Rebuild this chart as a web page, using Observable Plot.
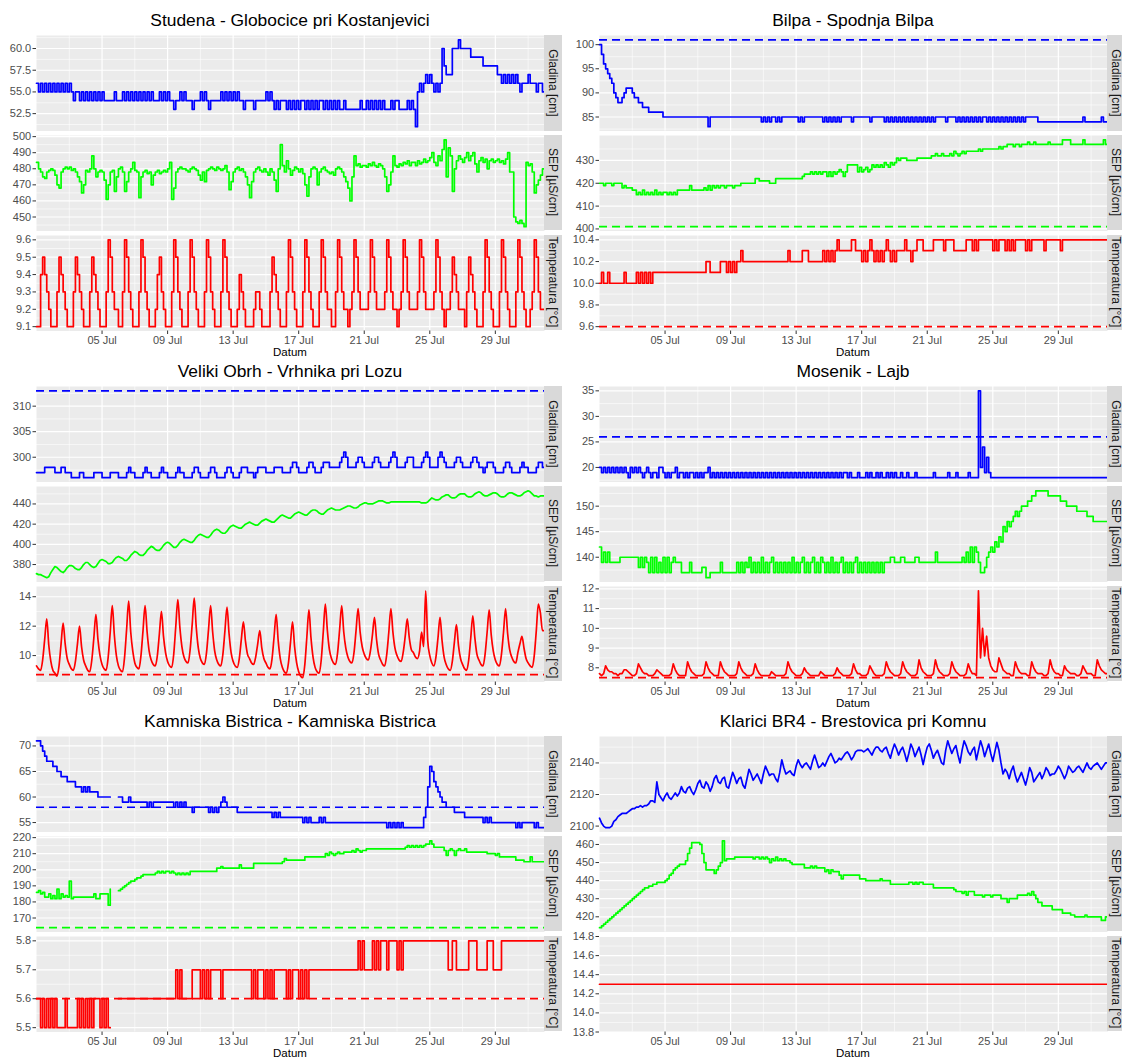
<!DOCTYPE html>
<html><head><meta charset="utf-8">
<script src="https://cdn.jsdelivr.net/npm/d3@7"></script>
<script src="https://cdn.jsdelivr.net/npm/@observablehq/plot@0.6"></script>
<style>
html,body{margin:0;padding:0;background:#fff;}
#root{position:relative;width:1122px;height:1059px;overflow:hidden;font-family:"Liberation Sans",Arial,sans-serif;}
.title{position:absolute;text-align:center;font-size:17.4px;line-height:22px;color:#000;white-space:nowrap;}
.xlab{position:absolute;text-align:center;font-size:11.5px;line-height:14px;color:#000;}
.strip{position:absolute;background:#D9D9D9;overflow:hidden;}
.strip span{position:absolute;left:50%;top:50%;transform:translate(-50%,-50%) rotate(90deg);white-space:nowrap;font-size:12px;color:#1A1A1A;}
.facet{position:absolute;}
.facet svg{overflow:visible;}
</style></head><body><div id="root"></div>
<script>
// ---------- DATA (3-hour samples from 01 Jul 00:00, 8 per day) ----------
const panelTitles = ["Studena - Globocice pri Kostanjevici","Bilpa - Spodnja Bilpa","Veliki Obrh - Vrhnika pri Lozu","Mosenik - Lajb","Kamniska Bistrica - Kamniska Bistrica","Klarici BR4 - Brestovica pri Komnu"];
const facetLabels = ["Gladina [cm]","SEP [µS/cm]","Temperatura [°C]"];
const facetColors = ["#0000FF","#00FF00","#FF0000"];
const xTickLabels = ["05 Jul","09 Jul","13 Jul","17 Jul","21 Jul","25 Jul","29 Jul"];

const studenaGladina = [
56,55,56,55,56,55,56,55, 56,55,56,55,56,55,56,55, 56,55,54,55,55,54,55,54, 55,54,55,54,55,54,55,54,
55,54,54,54,54,54,55,54, 54,54,55,54,55,54,55,54, 55,54,55,54,55,54,55,54, 55,54,54,54,55,54,55,54,
55,54,54,53,54,54,55,54, 55,54,54,54,53,54,54,54, 55,54,55,54,53,54,54,54, 54,54,55,54,55,54,55,54,
55,54,55,54,54,53,54,54, 54,54,53,54,54,54,54,54, 55,54,55,54,53,54,53,54, 54,54,53,54,53,54,53,54,
53,54,54,53,54,53,54,53, 54,53,54,54,53,54,53,54, 53,54,53,54,53,53,54,53, 53,53,53,53,53,53,54,53,
53,54,53,54,53,54,53,54, 53,54,53,53,53,54,53,54, 54,53,53,53,53,54,53,54, 53,51,55,56,55,56,57,56,
57,56,55,56,55,56,60,58, 57,57,57,60,60,60,61,60, 60,60,60,60,59,59,59,59, 59,59,58,58,58,58,58,58,
58,57,57,56,57,56,57,56, 57,56,57,56,55,56,56,56, 57,56,56,56,55,56,56,55];
const studenaSEP = [
484,480,478,475,474,478,479,480, 479,476,470,468,478,480,481,480, 481,479,480,478,475,472,465,470, 479,478,480,488,480,475,478,479,
478,473,461,470,478,479,466,475, 480,481,478,466,472,478,480,484, 479,478,462,475,478,479,477,478, 470,476,478,479,477,478,479,478,
480,484,461,468,478,480,481,480, 480,479,478,480,481,480,479,476, 473,478,472,479,480,481,480,479, 481,480,479,480,482,478,467,472,
478,480,481,479,480,478,475,470, 462,472,478,480,481,479,478,480, 478,476,480,478,473,466,480,495, 482,478,485,480,476,479,481,480,
478,480,477,470,463,475,480,481, 480,470,478,480,481,479,478,477, 478,476,480,481,480,478,475,472, 468,460,475,488,482,483,481,482,
482,481,483,482,484,482,481,483, 482,480,475,466,470,478,488,482, 481,483,482,484,483,485,482,484, 484,482,485,483,484,486,484,485,
487,490,484,482,488,485,492,498, 475,493,488,466,480,485,488,486, 484,487,490,485,488,490,483,478, 485,487,484,486,480,485,486,484,
485,486,484,485,483,486,490,478, 478,450,447,446,448,446,444,484, 482,483,478,465,470,473,476,480];
const studenaTemp = [
9.1,9.1,9.4,9.5,9.4,9.3,9.2,9.1, 9.1,9.1,9.3,9.5,9.4,9.3,9.2,9.1, 9.1,9.1,9.3,9.5,9.4,9.3,9.2,9.1, 9.1,9.1,9.3,9.5,9.4,9.3,9.2,9.1,
9.1,9.1,9.3,9.6,9.5,9.3,9.2,9.2, 9.1,9.1,9.3,9.6,9.5,9.3,9.2,9.1, 9.1,9.1,9.3,9.6,9.5,9.3,9.2,9.1, 9.1,9.1,9.2,9.4,9.5,9.3,9.2,9.1,
9.1,9.1,9.3,9.6,9.5,9.3,9.2,9.1, 9.1,9.1,9.3,9.6,9.5,9.3,9.2,9.1, 9.1,9.1,9.3,9.6,9.5,9.3,9.2,9.1, 9.1,9.1,9.3,9.6,9.5,9.3,9.2,9.1,
9.1,9.1,9.2,9.4,9.3,9.2,9.1,9.1, 9.1,9.1,9.2,9.3,9.3,9.2,9.1,9.1, 9.1,9.1,9.3,9.5,9.4,9.3,9.2,9.1, 9.1,9.1,9.3,9.6,9.5,9.3,9.2,9.1,
9.1,9.1,9.3,9.6,9.5,9.3,9.2,9.1, 9.1,9.1,9.3,9.6,9.5,9.3,9.2,9.2, 9.1,9.1,9.3,9.6,9.5,9.3,9.2,9.2, 9.1,9.2,9.3,9.6,9.5,9.3,9.2,9.2,
9.2,9.2,9.3,9.6,9.5,9.3,9.2,9.2, 9.2,9.2,9.3,9.6,9.5,9.3,9.2,9.2, 9.1,9.2,9.3,9.6,9.5,9.3,9.2,9.2, 9.2,9.2,9.3,9.6,9.5,9.3,9.2,9.2,
9.2,9.2,9.3,9.6,9.5,9.3,9.2,9.1, 9.2,9.2,9.3,9.5,9.4,9.3,9.2,9.2, 9.2,9.1,9.3,9.5,9.4,9.3,9.2,9.1, 9.1,9.1,9.3,9.6,9.5,9.3,9.2,9.1,
9.1,9.1,9.3,9.6,9.5,9.3,9.2,9.1, 9.1,9.1,9.3,9.6,9.5,9.3,9.2,9.1, 9.1,9.2,9.3,9.6,9.5,9.3,9.2,9.2];

const bilpaGladina = [
100,98,96,95,94,93,92,90, 89,88,88,89,90,91,91,91, 90,89,89,88,88,87,87,87, 86,86,86,86,86,86,86,85,
85,85,85,85,85,85,85,85, 85,85,85,85,85,85,85,85, 85,85,85,85,85,83,85,85, 85,85,85,85,85,85,85,85,
85,85,85,85,85,85,85,85, 85,85,85,85,85,85,85,84, 85,84,85,84,85,85,84,85, 84,85,85,85,85,85,85,85,
85,84,85,84,85,85,85,85, 85,85,85,85,85,84,85,84, 85,84,85,84,85,84,85,85, 85,85,85,84,85,85,85,85,
85,85,85,85,84,85,85,85, 85,85,85,84,85,84,85,84, 85,84,85,84,85,84,85,84, 85,84,85,84,85,84,85,84,
85,84,85,84,85,85,85,85, 85,84,85,85,85,85,84,85, 84,85,84,85,84,85,84,85, 84,85,84,85,85,84,85,84,
85,84,85,84,85,84,85,84, 85,84,85,84,85,84,85,84, 85,85,85,85,85,85,84,84, 84,84,84,84,84,84,84,84,
84,84,84,84,84,84,84,84, 84,84,84,84,85,84,84,84, 84,84,84,84,84,85,84,84];
const bilpaSEP = [
420,420,419,420,420,420,419,420, 420,420,420,418,419,418,418,418, 417,417,415,416,415,417,415,416, 415,416,415,417,415,416,415,416,
416,415,416,415,416,415,417,417, 417,417,417,417,419,417,417,417, 417,417,417,418,417,419,417,419, 418,419,418,419,419,418,419,419,
419,418,419,419,419,420,420,420, 420,420,420,420,422,422,421,421, 421,421,421,420,420,420,422,422, 422,422,422,422,422,422,422,422,
422,422,422,423,424,424,424,425, 424,425,424,425,424,425,425,423, 425,423,425,424,425,426,425,423, 425,428,428,428,428,428,425,427,
425,426,427,425,426,428,427,428, 427,428,427,429,428,427,429,428, 429,431,430,431,431,431,430,430, 430,430,430,431,431,431,431,431,
431,431,432,432,433,432,432,433, 432,432,432,433,432,434,433,432, 433,434,433,434,434,434,434,434, 434,435,434,435,435,435,435,435,
435,435,435,436,435,436,436,437, 437,437,436,437,437,436,437,437, 437,438,437,437,438,437,437,437, 437,437,437,438,437,437,437,437,
437,437,439,439,439,439,437,437, 437,437,437,437,439,437,437,437, 437,437,437,437,437,437,439,437];
const bilpaTemp = [
10.0,10.1,10.0,10.0,10.1,10.0,10.0,10.0, 10.0,10.0,10.0,10.0,10.1,10.0,10.0,10.0, 10.0,10.0,10.1,10.0,10.1,10.0,10.1,10.0, 10.1,10.0,10.1,10.1,10.1,10.1,10.1,10.1,
10.1,10.1,10.1,10.1,10.1,10.1,10.1,10.1, 10.1,10.1,10.1,10.1,10.1,10.1,10.1,10.1, 10.1,10.1,10.1,10.1,10.2,10.2,10.1,10.1, 10.1,10.1,10.1,10.2,10.2,10.2,10.1,10.2,
10.1,10.2,10.1,10.2,10.2,10.3,10.2,10.2, 10.2,10.2,10.2,10.2,10.2,10.2,10.2,10.2, 10.2,10.2,10.2,10.2,10.2,10.2,10.2,10.2, 10.2,10.2,10.2,10.2,10.3,10.2,10.2,10.2,
10.2,10.2,10.2,10.3,10.3,10.3,10.2,10.2, 10.2,10.2,10.2,10.2,10.2,10.3,10.2,10.3, 10.2,10.3,10.2,10.3,10.4,10.3,10.3,10.3, 10.3,10.3,10.3,10.4,10.4,10.3,10.3,10.3,
10.2,10.3,10.2,10.3,10.4,10.3,10.2,10.3, 10.2,10.3,10.2,10.3,10.4,10.3,10.2,10.3, 10.2,10.3,10.3,10.3,10.3,10.4,10.3,10.3, 10.2,10.3,10.3,10.4,10.4,10.4,10.3,10.3,
10.3,10.3,10.3,10.4,10.4,10.4,10.4,10.4, 10.3,10.4,10.4,10.4,10.4,10.3,10.3,10.3, 10.3,10.3,10.3,10.4,10.4,10.4,10.3,10.4, 10.3,10.4,10.4,10.4,10.4,10.4,10.4,10.4,
10.3,10.4,10.3,10.4,10.4,10.4,10.3,10.4, 10.3,10.4,10.3,10.4,10.4,10.4,10.4,10.4, 10.3,10.4,10.3,10.4,10.4,10.4,10.4,10.4, 10.4,10.3,10.4,10.4,10.4,10.4,10.4,10.4,
10.4,10.3,10.4,10.4,10.4,10.4,10.4,10.4, 10.4,10.4,10.4,10.4,10.4,10.4,10.4,10.4, 10.4,10.4,10.4,10.4,10.4,10.4,10.4,10.4];

const velikiGladina = [
297,297,297,297,298,298,298,298, 298,297,297,297,298,298,297,297, 297,296,296,296,296,297,297,296, 296,296,296,296,297,297,297,297,
296,296,296,296,297,297,297,297, 296,296,296,296,297,298,297,297, 296,296,296,296,297,298,297,297, 296,296,296,296,297,298,297,297,
296,296,296,296,297,298,297,297, 296,296,296,296,297,298,298,297, 296,296,296,296,297,298,298,297, 296,296,296,296,297,298,298,297,
296,296,296,297,298,298,298,297, 297,297,296,297,298,298,298,298, 297,297,297,297,298,298,298,298, 297,297,297,297,298,299,299,298,
297,297,297,297,298,299,299,298, 297,297,297,298,299,299,299,298, 298,298,298,298,299,300,301,300, 298,298,298,298,299,300,300,299,
298,298,298,298,299,300,300,299, 298,298,298,298,299,300,301,300, 298,298,298,298,299,300,300,300, 298,298,298,298,299,300,301,300,
298,298,298,298,300,301,300,299, 298,298,298,298,299,300,300,299, 298,298,298,298,299,300,300,299, 298,298,297,298,299,299,299,298,
297,297,297,297,298,299,299,298, 297,297,297,297,298,299,298,298, 297,297,297,297,298,299,299,298];
const velikiSEP = [
371,370,370,369,368,367,368,372, 375,378,377,375,373,372,374,377, 379,379,378,376,375,375,377,380, 382,382,380,378,377,378,381,384,
385,384,383,381,381,382,385,387, 388,387,386,384,384,386,389,391, 393,392,390,389,389,391,394,396, 398,397,395,394,394,396,399,401,
402,401,399,397,397,399,402,404, 405,404,403,402,402,404,407,409, 410,409,408,407,407,409,412,414, 415,414,412,411,411,413,416,418,
419,418,417,416,416,418,420,421, 422,421,420,419,419,421,423,424, 425,424,423,422,422,424,426,428, 429,428,427,426,426,428,430,431,
432,431,430,429,429,431,433,434, 434,433,431,430,430,432,434,435, 436,435,434,434,434,435,436,437, 438,438,437,436,436,437,439,440,
441,441,440,440,440,441,442,443, 443,443,442,441,441,442,442,442, 442,442,442,442,442,442,442,442, 442,442,442,442,441,441,441,442,
444,446,445,444,444,445,447,448, 449,449,447,446,446,447,449,450, 450,450,448,447,447,448,450,451, 452,451,449,448,448,449,450,451,
451,450,448,447,447,448,450,451, 451,450,449,448,448,449,451,452, 453,452,450,448,448,447,448,448];
const velikiTemp = [
9.3,9.1,9.0,9.7,11.1,12.5,10.7,9.6, 9.0,8.8,8.6,9.3,10.8,12.2,10.8,9.8, 9.4,9.1,9.0,9.6,10.8,12.0,10.6,9.7, 9.3,9.0,8.9,9.7,11.2,12.8,11.1,10.0,
9.4,9.1,9.0,9.9,11.6,13.4,11.4,10.0, 9.3,9.0,8.9,9.9,11.8,13.7,11.6,10.3, 9.5,9.2,9.1,10.0,11.7,13.4,11.6,10.3, 9.7,9.4,9.3,10.0,11.5,13.0,11.3,10.2,
9.6,9.3,9.2,10.1,12.0,13.8,11.9,10.6, 9.9,9.6,9.5,10.4,12.1,13.9,11.9,10.5, 9.8,9.5,9.4,10.2,11.8,13.4,11.6,10.3, 9.7,9.4,9.3,10.1,11.7,13.3,11.5,10.2,
9.6,9.3,9.2,9.8,11.1,12.3,11.0,10.1, 9.8,9.5,9.4,9.9,10.8,11.7,10.5,9.8, 9.5,9.2,9.1,9.8,11.3,12.8,11.0,9.8, 9.2,8.9,8.8,9.5,10.9,12.3,10.6,9.5,
8.9,8.6,8.5,9.4,11.3,13.1,11.2,9.9, 9.2,8.9,8.8,9.7,11.6,13.5,11.7,10.4, 9.8,9.5,9.4,10.2,11.8,13.4,11.6,10.5, 9.9,9.6,9.5,10.2,11.7,13.2,11.6,10.6,
10.1,9.8,9.7,10.3,11.4,12.6,11.1,10.1, 9.7,9.4,9.3,10.1,11.6,13.2,11.6,10.5, 10.0,9.7,9.6,10.2,11.3,12.5,11.2,10.4, 10.2,9.9,9.8,10.3,11.6,10.6,14.4,11.0,
10.0,9.5,9.3,9.9,11.2,12.6,11.0,9.9, 9.4,9.1,9.0,9.6,10.9,12.1,10.7,9.8, 9.4,9.1,9.0,9.7,11.2,12.7,11.2,10.1, 9.7,9.4,9.3,10.1,11.6,13.1,11.4,10.3,
9.7,9.4,9.3,10.1,11.6,13.2,11.5,10.4, 9.9,9.6,9.5,10.2,10.8,11.3,10.5,9.8, 9.5,9.3,9.2,10.0,11.7,13.5,12.9,11.7];

const mosenikGladina = [
20,19,20,19,20,19,20,19, 20,19,20,19,20,19,18,20, 19,20,19,20,19,18,19,20, 19,18,19,19,18,20,20,19,
18,19,18,19,19,20,18,19, 19,18,19,18,19,19,18,19, 18,19,18,19,19,20,18,19, 18,19,18,19,18,19,18,19,
18,19,18,19,18,19,18,19, 18,19,18,19,18,19,18,19, 18,19,18,19,18,19,18,19, 18,19,18,19,18,19,18,19,
18,19,18,19,18,19,18,19, 18,19,18,19,18,19,18,19, 18,19,18,19,18,19,18,19, 19,18,19,18,18,18,19,18,
18,18,19,18,19,18,18,19, 18,19,18,18,19,18,19,18, 19,18,18,19,18,18,19,18, 18,18,19,18,18,18,18,18,
18,18,18,19,18,18,18,18, 18,18,19,18,18,18,19,18, 18,18,18,18,19,18,18,18, 18,35,20,24,19,22,19,18,
18,18,18,18,18,18,18,18, 18,18,18,18,18,18,18,18, 18,18,18,18,18,18,18,18, 18,18,18,18,18,18,18,18,
18,18,18,18,18,18,18,18, 18,18,18,18,18,18,18,18, 18,18,18,18,18,18,18,18];
const mosenikSEP = [
142,139,141,139,141,139,139,139, 139,139,140,140,140,140,140,140, 140,140,140,138,140,138,140,139, 137,140,137,140,137,139,137,140,
137,140,137,139,140,139,139,139, 137,137,137,137,139,137,137,137, 137,137,138,138,136,136,137,137, 137,137,137,139,137,137,137,137,
137,137,137,139,137,139,137,139, 138,140,137,139,137,139,137,140, 137,139,137,139,140,137,139,137, 139,137,139,137,139,137,140,137,
139,137,139,140,137,139,137,139, 140,137,139,137,140,139,137,139, 137,140,137,139,137,139,140,137, 139,137,139,137,139,140,137,139,
137,139,137,139,137,139,137,139, 137,139,137,139,139,139,140,140, 139,139,139,140,140,139,139,139, 139,139,140,140,139,139,139,139,
139,139,139,139,141,139,139,139, 139,139,139,139,139,139,139,139, 139,140,139,141,139,142,139,142, 141,139,137,137,138,140,141,142,
141,143,142,144,143,146,145,147, 146,147,148,149,148,149,150,150, 150,151,151,152,152,153,153,153, 153,153,153,152,152,152,152,152,
152,151,151,151,150,150,150,150, 150,149,149,149,149,149,148,148, 148,147,147,147,147,147,147,147];
const mosenikTemp = [
7.7,7.6,7.7,8.1,7.9,7.8,7.8,7.7, 7.7,7.6,7.7,7.7,7.9,7.9,7.8,7.7, 7.6,7.6,7.7,8.2,8.0,7.8,7.7,7.7, 7.6,7.6,7.6,7.7,7.9,7.8,7.7,7.6,
7.6,7.6,7.6,7.7,8.2,7.9,7.7,7.6, 7.6,7.6,7.6,8.3,8.0,7.8,7.7,7.6, 7.6,7.6,7.6,7.7,8.3,8.0,7.8,7.7, 7.6,7.6,7.6,8.3,8.0,7.8,7.7,7.6,
7.6,7.6,7.6,7.7,8.3,8.0,7.8,7.7, 7.6,7.6,7.6,7.7,8.2,7.9,7.7,7.6, 7.6,7.6,7.6,7.6,7.8,7.7,7.6,7.6, 7.6,7.6,7.6,7.7,8.3,8.0,7.8,7.7,
7.6,7.6,7.6,7.7,8.0,7.8,7.7,7.6, 7.6,7.6,7.6,7.6,7.8,7.7,7.6,7.6, 7.6,7.6,7.6,7.7,8.0,7.8,7.7,7.6, 7.6,7.6,7.6,7.7,8.2,7.9,7.7,7.7,
7.6,7.6,7.6,7.7,8.1,7.9,7.7,7.6, 7.6,7.6,7.6,7.7,8.3,8.0,7.8,7.7, 7.6,7.6,7.6,7.7,8.3,8.0,7.8,7.7, 7.6,7.6,7.6,7.7,8.4,8.0,7.8,7.7,
7.6,7.6,7.6,7.7,8.4,8.0,7.8,7.7, 7.6,7.6,7.6,7.7,8.3,8.0,7.8,7.7, 7.6,7.6,7.6,7.7,8.2,7.9,7.7,7.7, 7.6,11.9,8.5,10.0,8.6,9.6,8.5,8.1,
7.9,7.8,7.8,8.5,8.2,7.9,7.8,7.7, 7.7,7.6,7.6,8.3,8.0,7.8,7.7,7.7, 7.7,7.6,7.6,8.3,8.0,7.8,7.7,7.7, 7.7,7.6,7.6,7.7,8.4,8.0,7.8,7.7,
7.7,7.6,7.6,8.1,7.9,7.8,7.7,7.7, 7.7,7.6,7.6,7.7,8.1,7.9,7.7,7.7, 7.7,7.6,7.6,8.4,8.1,7.9,7.8,7.7];

const kamniskaGladina = [
71,71,70,69,68,67,67,67, 66,66,65,65,64,64,64,63, 63,63,63,62,62,62,61,62, 61,62,61,61,61,61,60,60,
60,60,60,60,60,null,null,null, 60,60,59,59,59,60,59,59, 59,59,59,59,59,59,58,59, 58,59,59,59,59,59,59,59,
59,59,59,58,59,58,59,58, 59,58,58,58,57,58,58,58, 58,58,58,58,57,58,57,58, 57,58,59,60,59,58,58,58,
58,58,57,57,57,57,57,57, 57,57,57,57,57,57,57,57, 57,57,57,56,57,56,57,56, 56,56,56,56,56,56,56,56,
56,56,55,56,55,56,55,55, 55,55,56,55,56,55,55,55, 55,55,55,55,55,55,55,55, 55,55,55,55,55,55,55,55,
55,55,55,55,55,55,55,55, 55,55,55,54,55,54,55,54, 55,54,55,54,54,54,54,54, 54,54,54,54,54,56,58,62,
66,65,63,62,61,60,59,59, 58,58,58,58,57,57,57,57, 57,56,56,56,56,56,56,56, 56,56,55,56,55,56,55,55,
55,55,55,55,55,55,55,55, 55,55,54,55,54,55,55,55, 55,55,55,54,55,54,54,54];
const kamniskaSEP = [
186,187,185,186,183,183,185,182, 184,182,188,182,185,183,184,183, 193,182,183,183,183,183,183,183, 183,183,183,183,185,182,182,185,
185,185,185,178,188,null,null,null, 187,188,189,190,191,192,193,193, 194,195,195,196,197,197,197,197, 197,197,198,199,198,199,198,199,
199,198,199,198,197,198,197,198, 197,198,197,199,199,199,199,199, 199,199,199,199,199,199,199,199, 201,201,202,201,201,201,201,201,
201,201,201,203,201,201,201,201, 201,201,204,204,204,204,204,204, 204,204,204,204,204,204,204,204, 205,207,206,206,206,206,206,206,
206,206,206,208,208,208,208,208, 208,208,208,208,208,210,209,211, 210,209,210,211,210,210,211,211, 211,211,212,211,213,212,211,212,
212,213,213,213,213,213,213,213, 213,213,213,213,213,213,213,213, 213,213,213,213,214,215,214,215, 214,215,214,215,214,215,216,216,
218,216,214,214,214,214,214,212, 209,212,213,212,209,212,213,212, 212,213,211,211,211,211,211,211, 211,211,211,211,210,210,210,210,
209,210,208,208,208,208,208,208, 208,208,206,206,206,206,205,205, 205,208,205,205,205,205,205,205];
const kamniskaTemp = [
5.6,5.6,5.5,5.6,5.5,5.6,5.5,5.6, 5.5,5.6,5.5,5.5,5.5,5.5,5.6,5.5, 5.5,5.5,5.5,5.5,5.6,5.5,5.6,5.5, 5.6,5.5,5.6,5.5,5.6,5.6,5.6,5.5,
5.6,5.5,5.6,5.5,5.5,null,null,null, 5.6,5.6,5.6,5.6,5.6,5.6,5.6,5.6, 5.6,5.6,5.6,5.6,5.6,5.6,5.6,5.6, 5.6,5.6,5.6,5.6,5.6,5.6,5.6,5.6,
5.6,5.6,5.6,5.6,5.7,5.6,5.7,5.6, 5.6,5.6,5.6,5.6,5.7,5.7,5.7,5.7, 5.6,5.7,5.6,5.7,5.6,5.7,5.7,5.7, 5.7,5.7,5.6,5.7,5.7,5.7,5.7,5.7,
5.7,5.7,5.7,5.7,5.7,5.7,5.7,5.7, 5.7,5.6,5.7,5.6,5.7,5.7,5.7,5.6, 5.7,5.6,5.7,5.6,5.7,5.7,5.7,5.7, 5.7,5.7,5.6,5.7,5.6,5.7,5.7,5.7,
5.6,5.7,5.6,5.7,5.6,5.7,5.7,5.7, 5.7,5.7,5.7,5.7,5.7,5.7,5.7,5.7, 5.7,5.7,5.7,5.7,5.7,5.7,5.7,5.7, 5.7,5.7,5.7,5.7,5.7,5.8,5.7,5.8,
5.7,5.7,5.7,5.7,5.8,5.7,5.8,5.7, 5.8,5.8,5.8,5.7,5.8,5.8,5.8,5.8, 5.7,5.8,5.7,5.8,5.8,5.8,5.8,5.8, 5.8,5.8,5.8,5.8,5.8,5.8,5.8,5.8,
5.8,5.8,5.8,5.8,5.8,5.8,5.8,5.8, 5.8,5.7,5.7,5.8,5.8,5.7,5.7,5.7, 5.7,5.7,5.7,5.8,5.8,5.8,5.8,5.7, 5.7,5.7,5.7,5.7,5.8,5.8,5.8,5.7,
5.7,5.7,5.7,5.8,5.8,5.8,5.8,5.8, 5.8,5.8,5.8,5.8,5.8,5.8,5.8,5.8, 5.8,5.8,5.8,5.8,5.8,5.8,5.8,5.8];

const klariciGladina = [
2105,2102,2100,2099,2099,2099,2100,2103, 2104,2106,2107,2108,2108,2108,2109,2110, 2111,2111,2112,2112,2113,2112,2113,2113, 2114,2116,2116,2115,2128,2120,2118,2116,
2119,2121,2118,2117,2119,2121,2119,2121, 2125,2122,2121,2124,2125,2122,2120,2123, 2127,2129,2125,2124,2128,2126,2122,2125, 2130,2132,2128,2127,2130,2131,2125,2124,
2129,2134,2131,2127,2130,2131,2126,2124, 2130,2136,2133,2129,2131,2133,2130,2127, 2133,2138,2135,2132,2133,2133,2130,2128, 2134,2142,2137,2133,2134,2135,2133,2132,
2138,2142,2139,2137,2139,2140,2138,2136, 2141,2145,2141,2137,2138,2140,2138,2141, 2144,2146,2143,2140,2141,2143,2142,2144, 2146,2147,2145,2142,2144,2147,2148,2148,
2148,2147,2148,2149,2147,2145,2148,2150, 2150,2148,2147,2149,2150,2146,2143,2148, 2152,2149,2145,2148,2150,2146,2141,2146, 2152,2149,2144,2147,2150,2145,2139,2145,
2150,2152,2148,2143,2146,2148,2144,2140, 2139,2148,2154,2150,2146,2149,2151,2145, 2140,2148,2154,2151,2147,2145,2148,2150, 2142,2148,2154,2150,2144,2148,2152,2146,
2141,2147,2153,2148,2140,2133,2136,2134, 2130,2135,2138,2132,2128,2131,2134,2130, 2126,2131,2137,2134,2128,2130,2132,2134, 2130,2133,2137,2135,2132,2133,2133,2135,
2138,2136,2133,2130,2133,2138,2136,2134, 2135,2137,2138,2136,2134,2137,2140,2137, 2136,2138,2139,2140,2138,2136,2138,2140];
const klariciSEP = [
414,415,416,417,418,419,420,421, 422,423,424,425,426,427,428,429, 430,431,432,433,434,435,436,436, 437,437,438,438,439,439,439,439,
440,441,443,444,446,447,448,449, 449,449,451,455,458,461,461,461, 461,460,455,450,446,446,446,446, 444,446,448,450,462,451,452,452,
452,452,453,453,453,453,453,453, 453,453,453,452,453,453,452,453, 452,453,452,450,452,451,453,451, 452,451,452,451,451,450,449,449,
449,449,449,449,447,447,447,448, 447,448,447,447,447,447,445,446, 444,446,445,445,445,443,441,443, 443,443,443,443,443,443,443,441,
441,441,440,440,440,440,440,440, 440,441,440,440,440,440,438,438, 438,438,438,438,438,438,438,439, 439,438,439,438,439,439,438,438,
438,438,438,436,436,436,436,436, 436,436,436,436,436,435,434,434, 434,433,434,432,434,434,434,432, 432,432,432,431,432,432,432,431,
432,432,432,432,430,430,430,428, 430,430,430,430,432,432,432,432, 432,433,432,434,432,430,428,428, 426,426,426,426,426,424,424,424,
424,424,422,422,422,422,421,421, 420,420,420,420,420,421,420,420, 420,420,420,420,420,418,418,420];
const klariciTemp = [14.3, 14.3];   // constant over the whole month
const klariciTempStepHours = 744;

const studenaTicks  = [["52.5","55.0","57.5","60.0"],["450","460","470","480","490","500"],["9.1","9.2","9.3","9.4","9.5","9.6"]];
const bilpaTicks    = [["85","90","95","100"],["400","410","420","430"],["9.6","9.8","10.0","10.2","10.4"]];
const velikiTicks   = [["300","305","310"],["380","400","420","440"],["10","12","14"]];
const mosenikTicks  = [["20","25","30","35"],["140","145","150"],["8","9","10","11","12"]];
const kamniskaTicks = [["55","60","65","70"],["170","180","190","200","210","220"],["5.5","5.6","5.7","5.8"]];
const klariciTicks  = [["2100","2120","2140"],["420","430","440","450","460"],["13.8","14.0","14.2","14.4","14.6","14.8"]];

const studenaLimits  = [null, null, null];
const bilpaLimits    = [101, 401, 9.6];
const velikiLimits   = [313, null, 8.7];
const mosenikLimits  = [26, null, 7.5];
const kamniskaLimits = [58, 164, 5.6];
const klariciLimits  = [null, null, null];

// ---------- BUILD ----------
const T0 = Date.UTC(2023, 6, 1), T1 = Date.UTC(2023, 7, 1);
function toSeries(values, stepH = 3) {
  const out = values.map((v, i) => ({t: new Date(T0 + i * stepH * 3600e3), v}));
  const last = values[values.length - 1];
  if (+out[out.length - 1].t < T1) out.push({t: new Date(T1), v: last});
  return out;
}
function domainOf(values, thr) {
  const vals = values.filter(v => v != null);
  if (thr != null) vals.push(thr);
  const lo = Math.min(...vals), hi = Math.max(...vals);
  if (lo === hi) return [lo - 0.5, hi + 0.5];
  const e = (hi - lo) * 0.05;
  return [lo - e, hi + e];
}
function minorsOf(ticks, dom) {
  const step = ticks[1] - ticks[0], out = [];
  for (let k = -1; k < ticks.length; k++) {
    const m = ticks[0] + (k + 0.5) * step;
    if (m >= dom[0] && m <= dom[1]) out.push(m);
  }
  return out;
}
const xMajor = xTickLabels.map(s => new Date(Date.UTC(2023, 6, parseInt(s, 10))));
const xLabelMap = new Map(xMajor.map((d, i) => [+d, xTickLabels[i]]));
const xMinor = [];
for (let k = -1; k < xMajor.length; k++) {
  const m = +xMajor[0] + (k + 0.5) * (xMajor[1] - xMajor[0]);
  if (m >= T0 && m <= T1) xMinor.push(new Date(m));
}

const panels = [
  {title: panelTitles[0], values: [studenaGladina, studenaSEP, studenaTemp], ticks: studenaTicks, limits: studenaLimits, curves: ["step-after","step-after","step-after"]},
  {title: panelTitles[1], values: [bilpaGladina, bilpaSEP, bilpaTemp], ticks: bilpaTicks, limits: bilpaLimits, curves: ["step-after","step-after","step-after"]},
  {title: panelTitles[2], values: [velikiGladina, velikiSEP, velikiTemp], ticks: velikiTicks, limits: velikiLimits, curves: ["step-after","linear","monotone-x"]},
  {title: panelTitles[3], values: [mosenikGladina, mosenikSEP, mosenikTemp], ticks: mosenikTicks, limits: mosenikLimits, curves: ["step-after","step-after","linear"]},
  {title: panelTitles[4], values: [kamniskaGladina, kamniskaSEP, kamniskaTemp], ticks: kamniskaTicks, limits: kamniskaLimits, curves: ["step-after","step-after","step-after"]},
  {title: panelTitles[5], values: [klariciGladina, klariciSEP, klariciTemp], ticks: klariciTicks, limits: klariciLimits, curves: ["linear","step-after","linear"], steps: [3, 3, klariciTempStepHours]}
];

const root = document.getElementById("root");
const colX = [0, 563], rowY = [0, 351, 701];
const facetTop = [35, 134.5, 234.5], facetH = 95.5;
const ML = 36, PW = 508, SW = 18, XB = 24;
const CENTER_W = 2 * (ML + PW / 2);   // box centred on the panel area
const FONT = "'Liberation Sans', Arial, sans-serif";

function addDiv(cls, left, top, width, height, text) {
  const d = document.createElement("div");
  d.className = cls;
  d.style.left = left + "px"; d.style.top = top + "px";
  if (width != null) d.style.width = width + "px";
  if (height != null) d.style.height = height + "px";
  if (text != null) d.textContent = text;
  root.appendChild(d);
  return d;
}

panels.forEach((p, pi) => {
  const ox = colX[pi % 2], oy = rowY[Math.floor(pi / 2)];
  addDiv("title", ox, oy + 9, CENTER_W, 22, p.title);
  for (let f = 0; f < 3; f++) {
    const vals = p.values[f];
    const stepH = p.steps ? p.steps[f] : 3;
    const data = toSeries(vals, stepH);
    const thr = p.limits[f];
    const dom = domainOf(vals, thr);
    const tickLabels = p.ticks[f];
    const yMajor = tickLabels.map(Number);
    const yLabelMap = new Map(yMajor.map((v, i) => [v, tickLabels[i]]));
    const yMinor = minorsOf(yMajor, dom);
    const isBottom = f === 2;
    const color = facetColors[f];
    const marks = [
      Plot.frame({fill: "#EBEBEB", stroke: "none"}),
      Plot.ruleY(yMinor, {stroke: "#FFFFFF", strokeWidth: 0.6}),
      Plot.ruleX(xMinor, {stroke: "#FFFFFF", strokeWidth: 0.6}),
      Plot.ruleY(yMajor, {stroke: "#FFFFFF", strokeWidth: 1.2}),
      Plot.ruleX(xMajor, {stroke: "#FFFFFF", strokeWidth: 1.2})
    ];
    if (thr != null) marks.push(Plot.ruleY([thr], {stroke: color, strokeWidth: 1.7, strokeDasharray: "8,5"}));
    marks.push(Plot.line(data, {x: "t", y: "v", stroke: color, strokeWidth: 1.7, curve: p.curves[f]}));
    marks.push(Plot.axisY(yMajor, {tickSize: 3.5, tickPadding: 1.8, stroke: "#333333", fontSize: 11, label: null, tickFormat: v => yLabelMap.get(v)}));
    if (isBottom) marks.push(Plot.axisX(xMajor, {tickSize: 3.5, tickPadding: 1.5, stroke: "#333333", fontSize: 11, label: null, tickFormat: d => xLabelMap.get(+d)}));
    const svg = Plot.plot({
      width: ML + PW,
      height: facetH + (isBottom ? XB : 0),
      marginLeft: ML, marginRight: 0, marginTop: 0, marginBottom: isBottom ? XB : 0,
      x: {type: "utc", domain: [new Date(T0), new Date(T1)], label: null, axis: isBottom ? undefined : null},
      y: {domain: dom, label: null},
      style: {fontFamily: FONT, fontSize: "11px", color: "#4D4D4D", background: "transparent"},
      marks
    });
    const holder = addDiv("facet", ox, oy + facetTop[f]);
    holder.appendChild(svg);
    const strip = addDiv("strip", ox + ML + PW, oy + facetTop[f], SW, facetH);
    const sp = document.createElement("span");
    sp.textContent = facetLabels[f];
    strip.appendChild(sp);
  }
  addDiv("xlab", ox, oy + 345, CENTER_W, 14, "Datum");
});
</script></body></html>
